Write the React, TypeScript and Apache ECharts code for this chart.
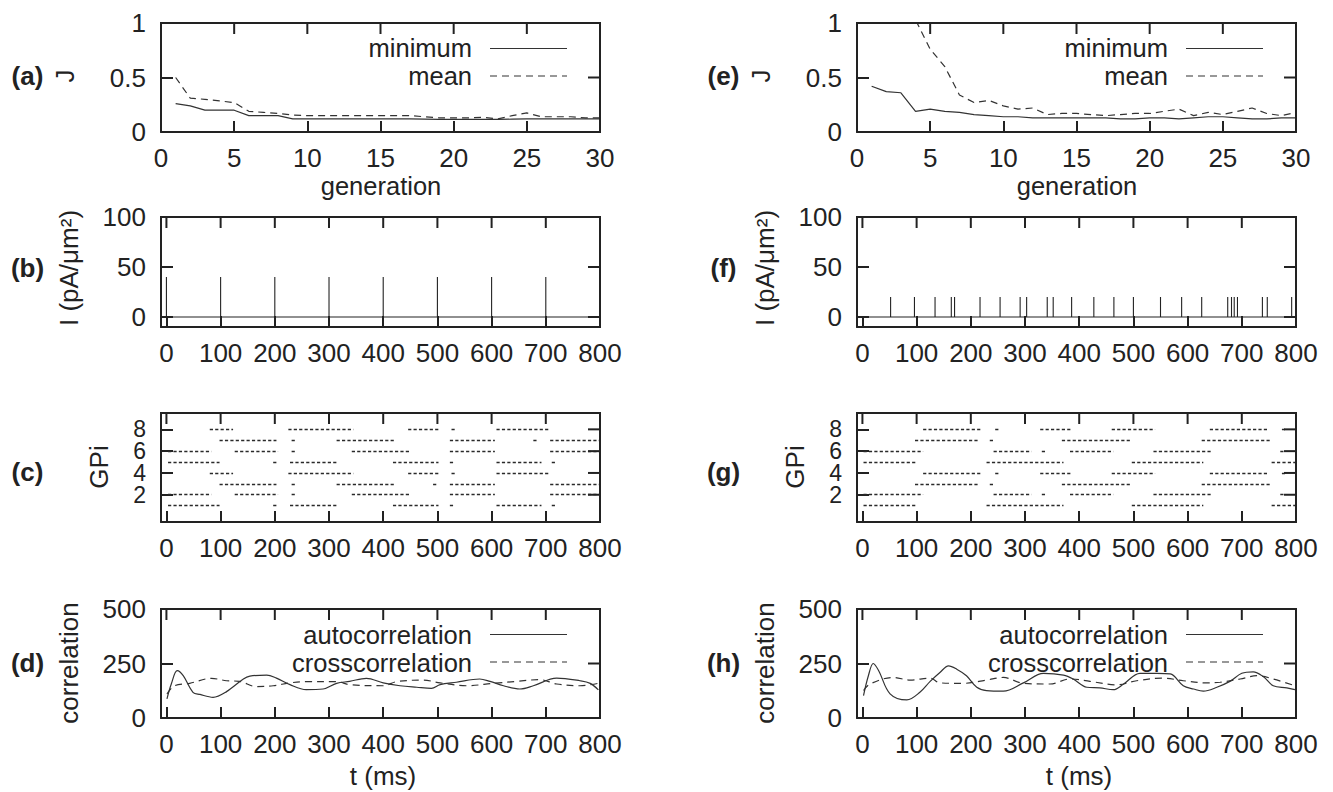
import React, { useEffect, useRef } from 'react';
import * as echarts from 'echarts';

const FONT = '"Liberation Sans", Arial, Helvetica, sans-serif';
const INK = '#222';
const LINE = '#333';

// ---------- data ----------
const generations = [1, 2, 3, 4, 5, 6, 7, 8, 9, 10, 11, 12, 13, 14, 15, 16, 17, 18, 19, 20, 21, 22, 23, 24, 25, 26, 27, 28, 29, 30];
const minA = [0.26, 0.24, 0.2, 0.2, 0.2, 0.15, 0.15, 0.15, 0.12, 0.12, 0.12, 0.12, 0.12, 0.12, 0.12, 0.12, 0.12, 0.118, 0.115, 0.115, 0.115, 0.115, 0.115, 0.118, 0.12, 0.12, 0.12, 0.12, 0.12, 0.12];
const meanA = [0.5, 0.31, 0.3, 0.285, 0.27, 0.19, 0.18, 0.17, 0.155, 0.15, 0.15, 0.15, 0.15, 0.15, 0.15, 0.15, 0.15, 0.14, 0.13, 0.13, 0.13, 0.135, 0.12, 0.15, 0.175, 0.14, 0.14, 0.14, 0.13, 0.13];
const minE = [0.42, 0.37, 0.36, 0.19, 0.21, 0.19, 0.18, 0.16, 0.15, 0.14, 0.14, 0.13, 0.13, 0.13, 0.13, 0.13, 0.13, 0.12, 0.12, 0.13, 0.13, 0.12, 0.13, 0.14, 0.14, 0.13, 0.12, 0.12, 0.13, 0.13];
const meanE = [1.8, 1.6, 1.3, 1.03, 0.76, 0.6, 0.34, 0.27, 0.29, 0.24, 0.21, 0.22, 0.16, 0.17, 0.17, 0.16, 0.15, 0.16, 0.17, 0.17, 0.19, 0.21, 0.15, 0.18, 0.16, 0.19, 0.22, 0.17, 0.15, 0.18];

const stimTimesB = [0, 100, 200, 300, 400, 500, 600, 700];
const stimAmpB = 40;
const stimTimesF = [52, 96, 134, 164, 170, 217, 254, 291, 303, 341, 352, 386, 427, 464, 500, 550, 589, 626, 674, 681, 686, 692, 738, 747, 792];
const stimAmpF = 20;

// bursts of GPi spikes: [neuron, start ms, end ms]
const burstsC: number[][] = [
  [8, 80, 123], [8, 225, 345], [8, 446, 505], [8, 526, 535], [8, 609, 705],
  [7, 98, 203], [7, 231, 240], [7, 314, 421], [7, 523, 606], [7, 677, 686], [7, 708, 800],
  [6, 3, 83], [6, 126, 206], [6, 231, 240], [6, 342, 449], [6, 523, 606], [6, 708, 800],
  [5, 3, 98], [5, 197, 206], [5, 228, 314], [5, 418, 502], [5, 523, 532], [5, 609, 692], [5, 711, 720],
  [4, 80, 123], [4, 225, 345], [4, 446, 505], [4, 526, 535], [4, 609, 705],
  [3, 98, 203], [3, 231, 240], [3, 314, 421], [3, 492, 502], [3, 523, 606], [3, 708, 800],
  [2, 3, 83], [2, 126, 206], [2, 231, 240], [2, 342, 449], [2, 523, 606], [2, 708, 800],
  [1, 3, 98], [1, 197, 206], [1, 228, 314], [1, 418, 502], [1, 523, 532], [1, 609, 692], [1, 711, 720],
];
const burstsG: number[][] = [
  [8, 112, 220], [8, 245, 254], [8, 328, 386], [8, 460, 540], [8, 641, 749], [8, 774, 780],
  [7, 97, 214], [7, 235, 245], [7, 368, 497], [7, 626, 755],
  [6, 2, 112], [6, 242, 312], [6, 331, 340], [6, 383, 463], [6, 537, 645], [6, 771, 780],
  [5, 2, 100], [5, 229, 371], [5, 497, 629], [5, 755, 800],
  [4, 112, 220], [4, 245, 254], [4, 328, 386], [4, 460, 540], [4, 641, 749], [4, 774, 780],
  [3, 97, 214], [3, 235, 245], [3, 368, 497], [3, 626, 755],
  [2, 2, 112], [2, 242, 312], [2, 331, 340], [2, 383, 463], [2, 537, 645], [2, 771, 780],
  [1, 2, 100], [1, 229, 371], [1, 497, 629], [1, 755, 800],
];

const autoD = [[1, 88], [9, 156], [20, 217], [31, 194], [49, 118], [62, 108], [86, 95], [111, 121], [142, 179], [154, 192], [185, 197], [203, 183], [228, 153], [258, 130], [289, 133], [314, 159], [338, 168], [369, 182], [400, 161], [431, 148], [462, 141], [489, 136], [505, 153], [535, 164], [578, 179], [597, 168], [622, 148], [652, 133], [677, 148], [720, 183], [763, 171], [782, 159], [797, 129]];
const crossD = [[1, 110], [15, 148], [43, 159], [83, 182], [111, 171], [135, 168], [166, 144], [197, 148], [228, 161], [258, 167], [314, 167], [338, 153], [400, 148], [425, 167], [474, 174], [505, 161], [554, 148], [603, 159], [646, 168], [689, 176], [720, 156], [763, 148], [797, 159]];
const autoH = [[2, 103], [11, 194], [20, 250], [30, 217], [51, 111], [82, 83], [106, 118], [125, 168], [143, 209], [159, 239], [174, 224], [192, 194], [211, 141], [229, 126], [260, 123], [297, 161], [334, 205], [371, 197], [389, 179], [414, 141], [438, 138], [463, 130], [482, 156], [512, 205], [543, 205], [568, 202], [592, 148], [611, 133], [629, 123], [654, 141], [678, 168], [700, 205], [721, 212], [740, 189], [758, 148], [783, 138], [798, 130]];
const crossH = [[2, 126], [14, 156], [57, 186], [88, 174], [125, 183], [143, 161], [186, 159], [229, 174], [260, 186], [297, 159], [346, 156], [383, 179], [420, 168], [469, 152], [506, 171], [555, 183], [592, 171], [635, 161], [660, 164], [697, 179], [728, 194], [758, 179], [798, 148]];

const genTicks = [0, 5, 10, 15, 20, 25, 30];
const jTicks = [0, 0.5, 1];
const timeTicks = [0, 100, 200, 300, 400, 500, 600, 700, 800];
const currentTicks = [0, 50, 100];
const gpiTicks = [2, 4, 6, 8];
const gpiLabelsA = [2, 6];
const gpiLabelsB = [4, 8];
const corrTicks = [0, 250, 500];

const panelNames = ['(a)', '(b)', '(c)', '(d)', '(e)', '(f)', '(g)', '(h)'];
const yNames = ['J', 'I (pA/\u03bcm\u00b2)', 'GPi', 'correlation'];

// ---------- layout ----------
const COL_X = [161, 857];
const ROWS = [
  { top: 23, height: 109 },
  { top: 217, height: 110 },
  { top: 413, height: 109 },
  { top: 609, height: 109 },
];
const COL_SHIFT = 696;
const X_TICK_LEN = 11;
const Y_TICK_LEN = 12;

function mainAxis(gi: number, dim: 'x' | 'y', min: number, max: number, labels: number[], ticks: number[], fontSize = 26) {
  return {
    type: 'value',
    gridIndex: gi,
    min,
    max,
    position: dim === 'x' ? 'bottom' : 'left',
    axisLine: { show: true, onZero: false, lineStyle: { color: INK, width: 2 } },
    axisTick: {
      show: true,
      inside: true,
      length: dim === 'x' ? X_TICK_LEN : Y_TICK_LEN,
      customValues: ticks,
      lineStyle: { color: INK, width: 2 },
    },
    splitLine: { show: false },
    axisLabel: {
      show: true,
      customValues: labels,
      hideOverlap: false,
      margin: dim === 'x' ? 13 : 15,
      fontSize,
      color: INK,
      fontFamily: FONT,
    },
  };
}

// box top/right edges and inward mirrored tick marks, placed through the panel's own scales
// items: [x, y, kind] with kind 1 = top tick, 3 = right tick, 4 = top edge, 5 = right edge
function frameSeries(p: number, xr: number[], yr: number[], xt: number[], yt: number[]) {
  const data: number[][] = [
    ...xt.map((v) => [v, yr[1], 1]),
    ...yt.map((v) => [xr[1], v, 3]),
    [xr[0], yr[1], 4],
    [xr[1], yr[0], 5],
  ];
  return {
    type: 'custom',
    xAxisIndex: p,
    yAxisIndex: p,
    clip: false,
    z: 10,
    encode: { x: 0, y: 1 },
    data,
    renderItem: (params: any, api: any) => {
      const kind = api.value(2);
      const a0 = api.coord([api.value(0), api.value(1)]);
      let a = a0;
      let b: number[];
      if (kind === 1) {
        b = [a0[0], a0[1] + X_TICK_LEN];
      } else if (kind === 3) {
        b = [a0[0] - Y_TICK_LEN, a0[1]];
      } else if (kind === 4) {
        const e = api.coord([xr[1], yr[1]]);
        a = [a0[0] - 1, a0[1]];
        b = [e[0] + 1, e[1]];
      } else {
        const e = api.coord([xr[1], yr[1]]);
        a = [a0[0], a0[1] + 1];
        b = e;
      }
      return {
        type: 'line',
        shape: { x1: a[0], y1: a[1], x2: b[0], y2: b[1] },
        style: { stroke: INK, lineWidth: 2 },
      };
    },
  };
}

function lineSeries(name: string, p: number, data: number[][], dashed: boolean, smooth: number | boolean = false) {
  return {
    type: 'line',
    name,
    xAxisIndex: p,
    yAxisIndex: p,
    data,
    symbol: 'none',
    smooth,
    clip: true,
    lineStyle: { color: LINE, width: 1.2, type: dashed ? [7, 5] : 'solid' },
  };
}

function stimData(times: number[], amp: number) {
  const pts: number[][] = [[0, 0]];
  times.forEach((t) => {
    pts.push([t, 0], [t, amp], [t, 0]);
  });
  pts.push([800, 0]);
  return pts;
}

function rasterSeries(p: number, bursts: number[][]) {
  return {
    type: 'lines',
    coordinateSystem: 'cartesian2d',
    xAxisIndex: p,
    yAxisIndex: p,
    polyline: false,
    clip: true,
    lineStyle: { color: '#2a2a2a', width: 1.3, type: [3.2, 2.2], opacity: 1 },
    data: bursts.map((b) => ({ coords: [[b[1], b[0]], [b[2], b[0]]] })),
  };
}

function text(x: number, y: number, str: string, opts: any = {}) {
  return {
    type: 'text',
    x,
    y,
    rotation: opts.rotate ? Math.PI / 2 : 0,
    style: {
      text: str,
      fill: INK,
      fontSize: opts.size || 26,
      fontFamily: FONT,
      fontWeight: opts.bold ? 'bold' : 'normal',
      align: opts.align || 'center',
      verticalAlign: 'middle',
      textAlign: opts.align || 'center',
      textVerticalAlign: 'middle',
    },
  };
}

function legendItem(xRight: number, y: number, lineY: number, str: string, dashed: boolean) {
  return [
    text(xRight, y, str, { align: 'right', size: 25.5 }),
    {
      type: 'line',
      shape: { x1: xRight + 18, y1: lineY, x2: xRight + 95, y2: lineY },
      style: { stroke: LINE, lineWidth: 1.2, lineDash: dashed ? [7, 5] : null },
    },
  ];
}

function buildOption() {
  const grids: any[] = [];
  const xAxis: any[] = [];
  const yAxis: any[] = [];
  const extraY: any[] = [];
  const frames: any[] = [];
  for (let c = 0; c < 2; c++) {
    for (let r = 0; r < 4; r++) {
      grids.push({
        left: COL_X[c],
        top: ROWS[r].top,
        width: 439,
        height: ROWS[r].height,
      });
    }
  }
  for (let p = 0; p < 8; p++) {
    const r = p % 4;
    if (r === 0) {
      xAxis.push(mainAxis(p, 'x', 0, 30, genTicks, genTicks));
      yAxis.push(mainAxis(p, 'y', 0, 1, jTicks, jTicks));
      frames.push(frameSeries(p, [0, 30], [0, 1], genTicks, jTicks));
    } else if (r === 1) {
      xAxis.push(mainAxis(p, 'x', -10, 800, timeTicks, timeTicks));
      yAxis.push(mainAxis(p, 'y', -10, 100, currentTicks, currentTicks));
      frames.push(frameSeries(p, [-10, 800], [-10, 100], timeTicks, currentTicks));
    } else if (r === 2) {
      xAxis.push(mainAxis(p, 'x', -10, 800, timeTicks, timeTicks));
      yAxis.push(mainAxis(p, 'y', -0.5, 9.5, gpiLabelsA, gpiTicks, 23));
      const extra: any = mainAxis(p, 'y', -0.5, 9.5, gpiLabelsB, gpiTicks, 23);
      extra.axisLine = { show: false, onZero: false };
      extra.axisTick = { show: false };
      extraY.push(extra);
      frames.push(frameSeries(p, [-10, 800], [-0.5, 9.5], timeTicks, gpiTicks));
    } else {
      xAxis.push(mainAxis(p, 'x', -10, 800, timeTicks, timeTicks));
      yAxis.push(mainAxis(p, 'y', 0, 500, corrTicks, corrTicks));
      frames.push(frameSeries(p, [-10, 800], [0, 500], timeTicks, corrTicks));
    }
  }
  yAxis.push(...extraY);

  const zipGen = (vals: number[]) => generations.map((g, i) => [g, vals[i]]);

  const series: any[] = [
    lineSeries('minimum', 0, zipGen(minA), false),
    lineSeries('mean', 0, zipGen(meanA), true),
    lineSeries('I', 1, stimData(stimTimesB, stimAmpB), false),
    rasterSeries(2, burstsC),
    lineSeries('autocorrelation', 3, autoD, false, 0.35),
    lineSeries('crosscorrelation', 3, crossD, true, 0.35),
    lineSeries('minimum', 4, zipGen(minE), false),
    lineSeries('mean', 4, zipGen(meanE), true),
    lineSeries('I', 5, stimData(stimTimesF, stimAmpF), false),
    rasterSeries(6, burstsG),
    lineSeries('autocorrelation', 7, autoH, false, 0.35),
    lineSeries('crosscorrelation', 7, crossH, true, 0.35),
    ...frames,
  ];
  series[2].lineStyle = { color: INK, width: 1.1 };
  series[8].lineStyle = { color: INK, width: 1.1 };

  const graphic: any[] = [];
  const labelY = [76, 268, 472, 663];
  const nameX = [65, 69, 99, 69];
  const nameY = [76, 268, 467, 663];
  for (let c = 0; c < 2; c++) {
    const dx = c * COL_SHIFT;
    for (let r = 0; r < 4; r++) {
      graphic.push(text(27.5 + dx, labelY[r], panelNames[c * 4 + r], { bold: true }));
      graphic.push(text(nameX[r] + dx, nameY[r], yNames[r], { rotate: true }));
    }
    graphic.push(text(381 + dx, 186, 'generation', { size: 25.5 }));
    graphic.push(text(383 + dx, 776, 't (ms)'));
    graphic.push(...legendItem(472 + dx, 48, 48.5, 'minimum', false));
    graphic.push(...legendItem(472 + dx, 75.5, 76, 'mean', true));
    graphic.push(...legendItem(472 + dx, 635, 634.5, 'autocorrelation', false));
    graphic.push(...legendItem(472 + dx, 662.5, 662, 'crosscorrelation', true));
  }

  return {
    animation: false,
    backgroundColor: '#fff',
    textStyle: { fontFamily: FONT },
    grid: grids,
    xAxis,
    yAxis,
    series,
    graphic,
  };
}

export default function App() {
  const ref = useRef<HTMLDivElement>(null);
  useEffect(() => {
    const chart = echarts.init(ref.current as HTMLDivElement, null, { renderer: 'svg' });
    chart.setOption(buildOption() as any);
    return () => chart.dispose();
  }, []);
  return (
    <div
      ref={ref}
      style={{ position: 'fixed', left: 0, top: 0, width: 1333, height: 792, background: '#fff' }}
    />
  );
}
